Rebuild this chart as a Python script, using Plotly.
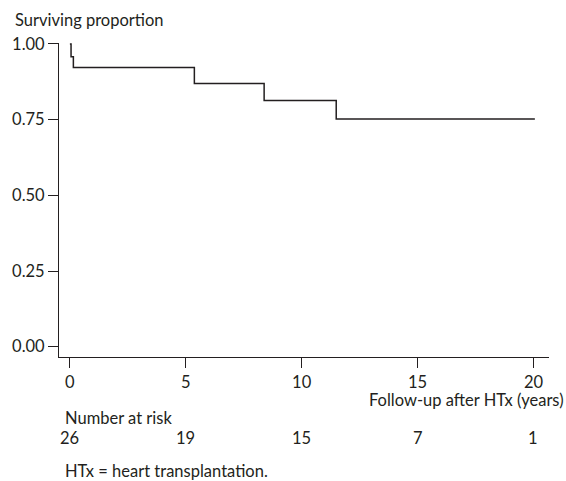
import plotly.graph_objects as go

# Kaplan-Meier step data (years, surviving proportion)
times = [0, 0.05, 0.15, 5.37, 8.38, 11.49, 20.06]
survival = [1.0, 0.958, 0.922, 0.869, 0.813, 0.752, 0.752]

x_ticks = [0, 5, 10, 15, 20]
y_ticks = [0.0, 0.25, 0.5, 0.75, 1.0]
y_tick_labels = ["0.00", "0.25", "0.50", "0.75", "1.00"]
risk_times = [0, 5, 10, 15, 20]
number_at_risk = [26, 19, 15, 7, 1]

FONT = "Lato"
FS = 16.5
TXT = "#231f20"
W, H = 566, 481
L, R, T, B = 57, 17, 43, 124
plot_h = H - T - B
plot_w = W - L - R

def py(ypx):
    return (H - B - ypx) / plot_h

def px(xpx):
    return (xpx - L) / plot_w

fig = go.Figure()
fig.add_trace(go.Scatter(
    x=times, y=survival, mode="lines", line=dict(shape="hv", color="#231f20", width=1.5),
    showlegend=False, hoverinfo="skip"))

f = dict(size=FS, color=TXT, family=FONT)
annotations = [
    dict(text="Surviving proportion", xref="paper", yref="paper", x=px(11), y=py(20),
         xanchor="left", yanchor="middle", showarrow=False, font=f),
    dict(text="Follow-up after HTx (years)", xref="paper", yref="paper", x=px(566), y=py(400),
         xanchor="right", yanchor="middle", showarrow=False, font=f),
    dict(text="Number at risk", xref="paper", yref="paper", x=px(61), y=py(418),
         xanchor="left", yanchor="middle", showarrow=False, font=f),
    dict(text="HTx = heart transplantation.", xref="paper", yref="paper", x=px(61), y=py(471),
         xanchor="left", yanchor="middle", showarrow=False, font=f),
]
for t, n in zip(risk_times, number_at_risk):
    annotations.append(dict(text=str(n), xref="x", yref="paper", x=t, y=py(438), xanchor="center",
                            yanchor="middle", showarrow=False, font=f))

fig.update_layout(
    width=W, height=H, margin=dict(l=L, r=R, t=T, b=B),
    paper_bgcolor="white", plot_bgcolor="white",
    font=dict(family=FONT, size=FS, color=TXT),
    xaxis=dict(range=[-0.47, 20.67], tickvals=x_ticks, ticks="outside", ticklen=10, tickwidth=1,
               tickcolor="#231f20", showline=True, linecolor="#231f20", linewidth=1,
               showgrid=False, zeroline=False, fixedrange=True),
    yaxis=dict(range=[-0.034, 1.003], tickvals=y_ticks, ticktext=y_tick_labels, ticks="outside",
               ticklen=10, tickwidth=1, tickcolor="#231f20", showline=True, linecolor="#231f20",
               linewidth=1, showgrid=False, zeroline=False, fixedrange=True),
    annotations=annotations,
)
fig.write_html("out.html", config={"displayModeBar": False},
               post_script="document.body.style.margin='0';document.body.style.overflow='hidden';")
